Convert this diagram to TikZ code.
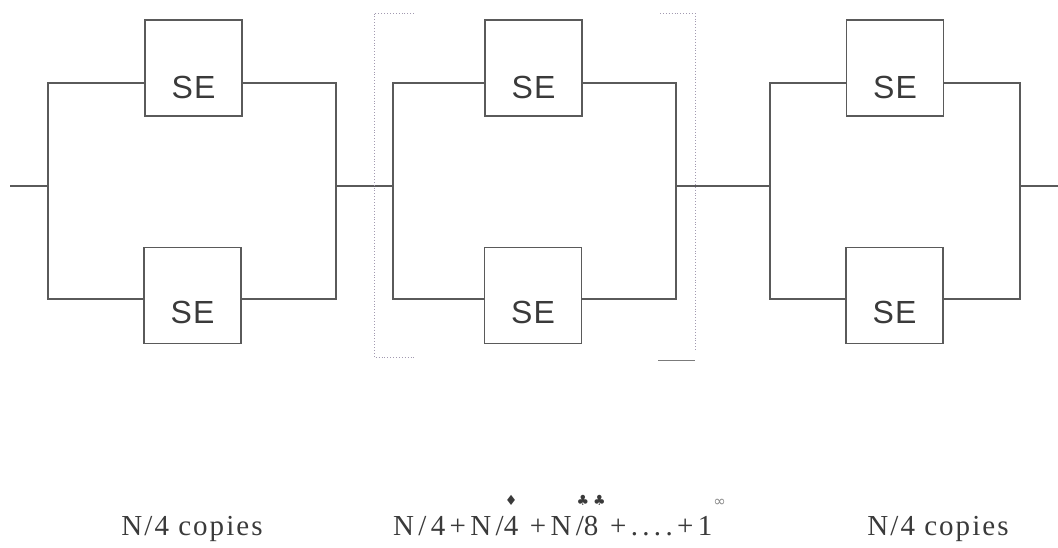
\documentclass[tikz,border=0pt]{standalone}
\usepackage{fontspec}
\setmainfont{Liberation Serif}
\newfontfamily\sefont[LetterSpace=4]{Liberation Sans}
\newfontfamily\labfont[LetterSpace=7]{Liberation Serif}
\newfontfamily\midfont[LetterSpace=15]{Liberation Serif}
\newfontfamily\symfont{DejaVu Sans}
\definecolor{linegray}{HTML}{5A5A5A}
\definecolor{bracketgray}{HTML}{A29AB0}
\definecolor{textgray}{HTML}{3A3A3A}
\newcommand\overmark[2]{\leavevmode\setbox0\hbox{#2}\hbox to \wd0{\hss\raisebox{1.02em}{\symfont\fontsize{14}{14}\selectfont #1}\hss}\kern-\wd0\box0\relax}
\begin{document}
\begin{tikzpicture}[x=1pt,y=-1pt,
  wire/.style={draw=linegray, line width=1.25pt},
  sebox/.style={draw=linegray, line width=1.25pt, minimum width=97pt, minimum height=96pt, inner sep=0pt},
  selabel/.style={font=\sefont\fontsize{32}{36}\selectfont, text=textgray, inner sep=0pt},
  brk/.style={draw=bracketgray, line width=0.9pt, dotted},
  labtext/.style={font=\labfont\fontsize{29}{34}\selectfont, text=textgray, inner sep=0pt},
  midtext/.style={font=\midfont\fontsize{29}{34}\selectfont, text=textgray, inner sep=0pt}]
\useasboundingbox (0,0) rectangle (1058,548);

% boxes
\node[sebox, label={[selabel, yshift=-19pt]center:SE}] (t1) at (193.5,68) {};
\node[sebox, label={[selabel, yshift=-17pt]center:SE}] (u1) at (192.5,295.5) {};
\node[sebox, label={[selabel, yshift=-19pt]center:SE}] (t2) at (533.5,68) {};
\node[sebox, label={[selabel, yshift=-17pt]center:SE}] (u2) at (533,295.5) {};
\node[sebox, label={[selabel, yshift=-19pt]center:SE}] (t3) at (895,68) {};
\node[sebox, label={[selabel, yshift=-17pt]center:SE}] (u3) at (894.5,295.5) {};

% junctions
\coordinate (in) at (10,186);
\coordinate (a1) at (48,186);
\coordinate (b1) at (336,186);
\coordinate (a2) at (393,186);
\coordinate (b2) at (676,186);
\coordinate (a3) at (770,186);
\coordinate (b3) at (1020,186);
\coordinate (out) at (1058,186);

\draw[wire] (in) -- (a1);
\draw[wire] ([yshift=-15pt]t1.west) -| (a1) |- ([yshift=-3.5pt]u1.west);
\draw[wire] ([yshift=-15pt]t1.east) -| (b1) |- ([yshift=-3.5pt]u1.east);
\draw[wire] (b1) -- (a2);
\draw[wire] ([yshift=-15pt]t2.west) -| (a2) |- ([yshift=-3.5pt]u2.west);
\draw[wire] ([yshift=-15pt]t2.east) -| (b2) |- ([yshift=-3.5pt]u2.east);
\draw[wire] (b2) -- (a3);
\draw[wire] ([yshift=-15pt]t3.west) -| (a3) |- ([yshift=-3.5pt]u3.west);
\draw[wire] ([yshift=-15pt]t3.east) -| (b3) |- ([yshift=-3.5pt]u3.east);
\draw[wire] (b3) -- (out);

% brackets
\coordinate (bl1) at (414,13);
\coordinate (bl2) at (374,13);
\coordinate (bl3) at (374,357);
\coordinate (bl4) at (414,357);
\draw[brk] (bl1) -- (bl2) -- (bl3) -- (bl4);
\coordinate (br1) at (660,13);
\coordinate (br2) at (695,13);
\coordinate (br3) at (695,352);
\draw[brk] (br1) -- (br2) -- (br3);
\coordinate (bs1) at (658,360);
\coordinate (bs2) at (695,360);
\draw[draw=linegray!80, line width=0.9pt] (bs1) -- (bs2);

% labels
\node[labtext, anchor=base] (c1) at (192,535) {N/4 copies};
\node[midtext, anchor=base west] (c2) at (393,535) {N/4+N/\overmark{♦}{4} +N/\overmark{♣\kern4pt♣}{8} +....+1\kern1pt\raisebox{1.0em}{\symfont\fontsize{15}{15}\selectfont\color{textgray!60}∞}};
\node[labtext, anchor=base] (c3) at (938,535) {N/4 copies};
\end{tikzpicture}
\end{document}
